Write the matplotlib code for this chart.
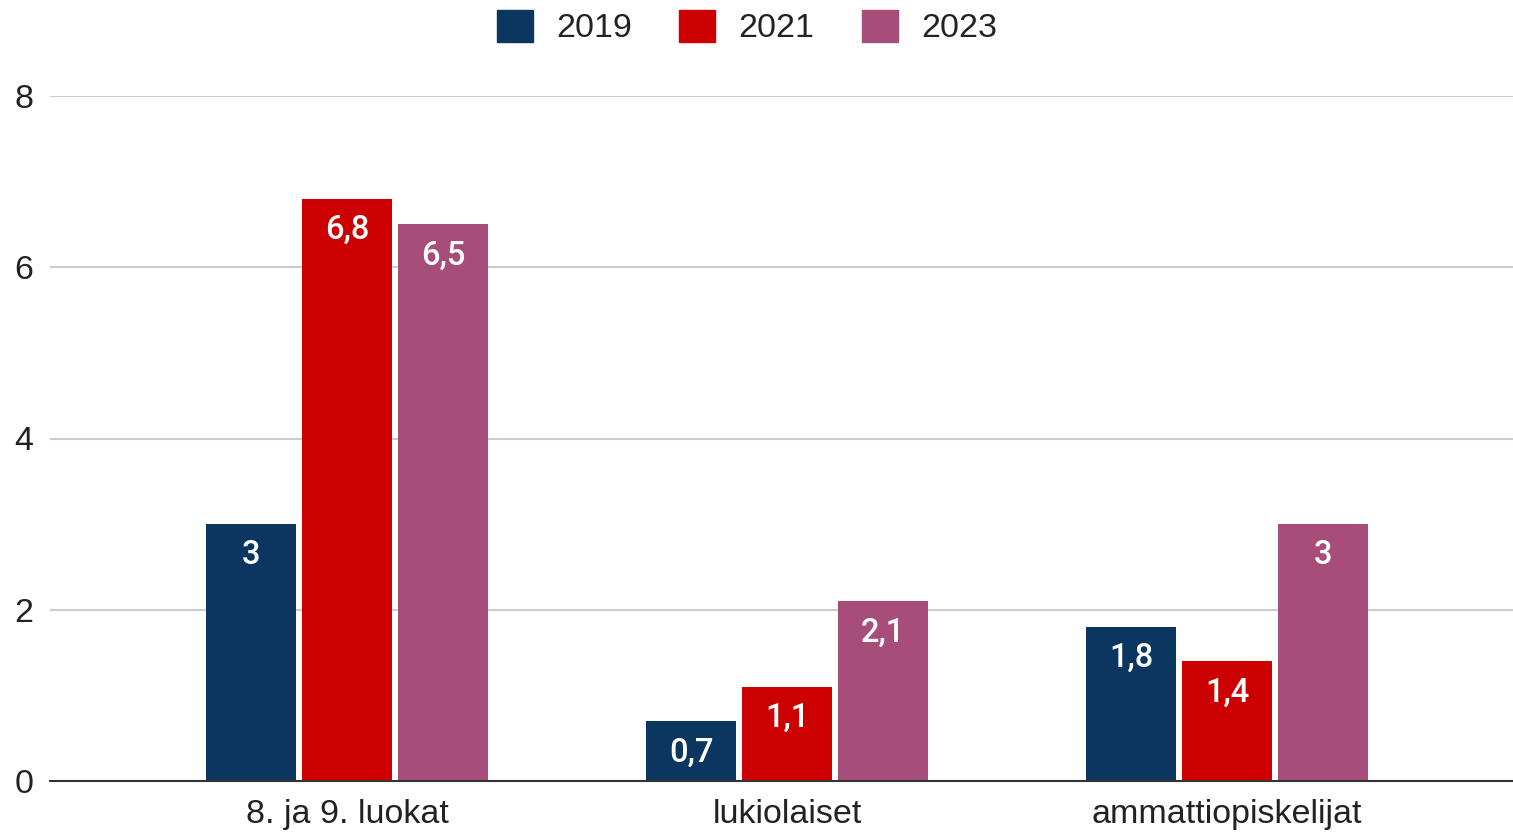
import matplotlib
matplotlib.use("Agg")
import matplotlib.pyplot as plt
from matplotlib.patches import Patch
import numpy as np

categories = ["8. ja 9. luokat", "lukiolaiset", "ammattiopiskelijat"]
years = ["2019", "2021", "2023"]
v2019 = [3.0, 0.7, 1.8]
v2021 = [6.8, 1.1, 1.4]
v2023 = [6.5, 2.1, 3.0]
series = [v2019, v2021, v2023]
colors = ["#0b3660", "#cc0000", "#a64d79"]
yticks = [0, 2, 4, 6, 8]

plt.rcParams['font.family'] = ['Liberation Sans', 'DejaVu Sans']

fig = plt.figure(figsize=(15.13, 8.34), dpi=100)
ax = fig.add_axes([50/1513, 53/834, 1 - 50/1513, (781-96)/834])

x = np.arange(len(categories))
step = 0.218
width = 0.203

def fmt(v):
    s = f"{v:g}"
    return s.replace(".", ",")

for i, (vals, c) in enumerate(zip(series, colors)):
    xs = x + (i - 1) * step
    bars = ax.bar(xs, vals, width=width, color=c, zorder=3)
    for b, v in zip(bars, vals):
        ax.annotate(fmt(v), (b.get_x() + b.get_width()/2, v),
                    xytext=(0, -22.5), textcoords="offset points",
                    ha="center", va="center", color="white", fontsize=23.5,
                    fontweight="medium",
                    family=['Roboto', 'DejaVu Sans'], zorder=4)

ax.set_xlim(-0.675, 2.65)
ax.set_ylim(0, 8)
ax.set_yticks(yticks)
ax.set_yticklabels([str(t) for t in yticks])
ax.set_xticks(x)
ax.set_xticklabels(categories)
ax.tick_params(axis='both', length=0, labelsize=24.5, colors="#222222")
ax.tick_params(axis='y', pad=12)
ax.tick_params(axis='x', pad=13)
ax.grid(axis='y', color="#cccccc", linewidth=1.5, zorder=0)
for s in ["top", "right", "left"]:
    ax.spines[s].set_visible(False)
ax.spines["bottom"].set_color("#333333")
ax.spines["bottom"].set_linewidth(1.5)
ax.spines["bottom"].set_zorder(5)

handles = [Patch(facecolor=c, edgecolor=c, label=y) for c, y in zip(colors, years)]
fig.legend(handles=handles, loc="center", bbox_to_anchor=(747/1513, 1 - 27/834),
           ncol=3, frameon=False, fontsize=24.5, handlelength=1.06, handleheight=1.06,
           handletextpad=0.68, columnspacing=1.4, labelcolor="#222222")

fig.savefig("out.png", dpi=100)
